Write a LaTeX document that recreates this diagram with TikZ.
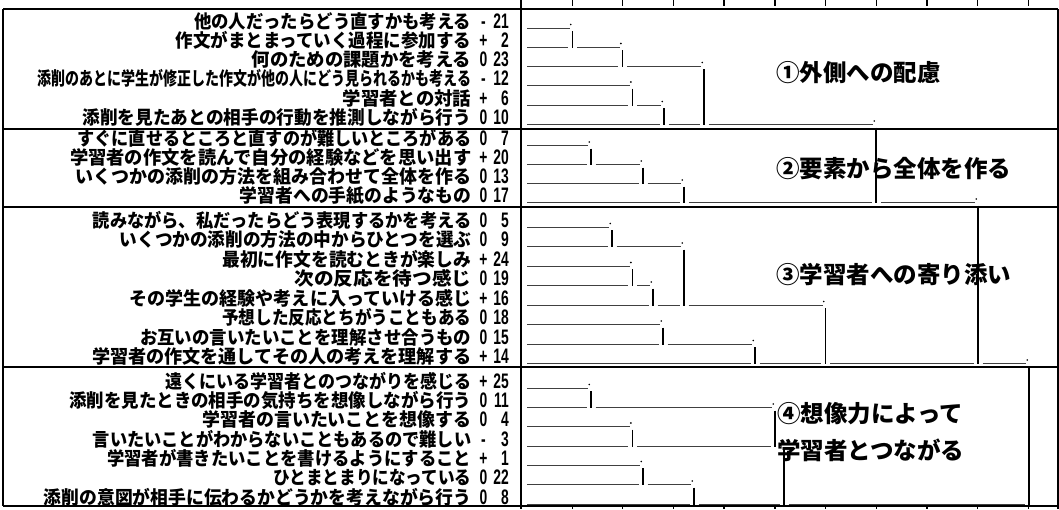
\documentclass[tikz,border=0pt]{standalone}
\usepackage{fontspec}
\usepackage{graphicx}
\newfontfamily\jp{Noto Sans CJK JP}
\newfontfamily\digf{Liberation Sans}
\newlength\labw
\newcommand\fitto[2]{\settowidth\labw{#2}\pgfmathsetmacro\sx{(#1)/\labw}\scalebox{\sx}[1]{#2}}
\tikzset{
  lab/.style={inner sep=0pt, font=\jp\bfseries\fontsize{18.5}{18.5}\selectfont},
  code/.style={inner sep=0pt, font=\digf\bfseries\fontsize{21}{21}\selectfont},
  glab/.style={inner sep=0pt, font=\jp\bfseries\fontsize{23.5}{23.5}\selectfont, anchor=base west},
  hl/.style={line width=0.9pt, black!75},
  bar/.style={line width=1.7pt, black},
  frame/.style={line width=1.4pt, black},
  tick/.style={line width=1.4pt, black}
}
\newcommand\lab[6]{%
  \node[lab, anchor=base east] (l#1) at (471.5,#2+7) {\fitto{471.5-#3}{#4}};
  \node[code, anchor=base] (s#1) at (483.5,#2+7.4) {\scalebox{0.66}[1]{#5}};
  \node[code, anchor=base east] (n#1) at (509,#2+7.4) {\scalebox{0.66}[1]{#6}};
}
\newcommand\mrg[5]{%
  \draw[hl] (#2,#1+7) -- (#5-3,#1+7);
  \fill (#5-1.8,#1+3.5) circle[radius=0.95];
  \draw[bar] (#5,#1+10) -- (#5,#3+7.5);
  \draw[hl] (#4,#3+7) -- (#5-4.5,#3+7);
}
\begin{document}
\begin{tikzpicture}[x=1pt,y=-1pt]
\useasboundingbox (0,0) rectangle (1059,509);
% labels
\lab{1}{21}{194.4}{他の人だったらどう直すかも考える}{-}{21}
\lab{2}{40}{175.8}{作文がまとまっていく過程に参加する}{+}{2}
\lab{3}{59}{251.9}{何のための課題かを考える}{0}{23}
\lab{4}{78.5}{38.2}{添削のあとに学生が修正した作文が他の人にどう見られるかも考える}{-}{12}
\lab{5}{98}{343}{学習者との対話}{+}{6}
\lab{6}{117.5}{82.8}{添削を見たあとの相手の行動を推測しながら行う}{0}{10}
\lab{7}{138.5}{77.8}{すぐに直せるところと直すのが難しいところがある}{0}{7}
\lab{8}{157.5}{70.3}{学習者の作文を読んで自分の経験などを思い出す}{+}{20}
\lab{9}{176.5}{76}{いくつかの添削の方法を組み合わせて全体を作る}{0}{13}
\lab{10}{195.5}{240}{学習者への手紙のようなもの}{0}{17}
\lab{11}{220}{93}{読みながら、私だったらどう表現するかを考える}{0}{5}
\lab{12}{239.5}{120}{いくつかの添削の方法の中からひとつを選ぶ}{0}{9}
\lab{13}{259}{222.5}{最初に作文を読むときが楽しみ}{+}{24}
\lab{14}{278.5}{294.8}{次の反応を待つ感じ}{0}{19}
\lab{15}{298}{130}{その学生の経験や考えに入っていける感じ}{+}{16}
\lab{16}{317.5}{222.5}{予想した反応とちがうこともある}{0}{18}
\lab{17}{337}{140.3}{お互いの言いたいことを理解させ合うもの}{0}{15}
\lab{18}{356.5}{92.3}{学習者の作文を通してその人の考えを理解する}{+}{14}
\lab{19}{381}{165.7}{遠くにいる学習者とのつながりを感じる}{+}{25}
\lab{20}{400.5}{69.3}{添削を見たときの相手の気持ちを想像しながら行う}{0}{11}
\lab{21}{419.5}{202.8}{学習者の言いたいことを想像する}{0}{4}
\lab{22}{439}{93}{言いたいことがわからないこともあるので難しい}{-}{3}
\lab{23}{458}{107.5}{学習者が書きたいことを書けるようにすること}{+}{1}
\lab{24}{477.5}{273.8}{ひとまとまりになっている}{0}{22}
\lab{25}{497}{44}{添削の意図が相手に伝わるかどうかを考えながら行う}{0}{8}
% group labels
\node[glab] (g1) at (776,81) {①外側への配慮};
\node[glab] (g2) at (776,177) {②要素から全体を作る};
\node[glab] (g3) at (776,283) {③学習者への寄り添い};
\node[glab] (g4a) at (777,422.7) {④想像力によって};
\node[glab] (g4b) at (777,459.3) {学習者とつながる};
% frame
\draw[frame] (3,9) -- (1058,9);
\draw[frame] (3,129) -- (1058,129);
\draw[frame] (3,207) -- (1058,207);
\draw[frame] (3,367) -- (1058,367);
\draw[frame] (3,506) -- (1058,506);
\draw[frame] (3,9) -- (3,506);
\draw[frame] (1058,9) -- (1058,509);
\draw[frame] (521,0) -- (521,509);
\foreach \tx in {572.5,622.6,673.3,724,774.8,825.5,876.2,927,977.7,1028.5}{
  \draw[tick] (\tx,0) -- (\tx,6);
  \draw[tick] (\tx,506) -- (\tx,509);
}
% dendrogram
\mrg{21}{527}{40}{527}{572.5}
\mrg{40}{577}{59}{527}{622.6}
\mrg{78.5}{527}{98}{527}{632.6}
\mrg{98}{637.1}{117.5}{527}{664}
\mrg{59}{627.1}{117.5}{668.5}{704}
\mrg{138.5}{527}{157.5}{527}{591}
\mrg{157.5}{595.5}{176.5}{527}{643}
\mrg{176.5}{647.5}{195.5}{527}{684}
\mrg{117.5}{708.5}{195.5}{688.5}{876}
\mrg{220}{527}{239.5}{527}{612}
\mrg{259}{527}{278.5}{527}{632.6}
\mrg{278.5}{637.1}{298}{527}{653}
\mrg{239.5}{616.5}{298}{657.5}{684}
\mrg{317.5}{527}{337}{527}{663}
\mrg{337}{667.5}{356.5}{527}{755}
\mrg{298}{688.5}{356.5}{759.5}{825.5}
\mrg{195.5}{880.5}{356.5}{830}{978}
\mrg{381}{527}{400.5}{527}{591}
\mrg{419.5}{527}{439}{527}{632.6}
\mrg{400.5}{595.5}{439}{637.1}{775}
\mrg{458}{527}{477.5}{527}{643}
\mrg{477.5}{647.5}{497}{527}{694}
\mrg{439}{779.5}{497}{698.5}{784}
\mrg{356.5}{982.5}{497}{788.5}{1029}
\end{tikzpicture}
\end{document}
